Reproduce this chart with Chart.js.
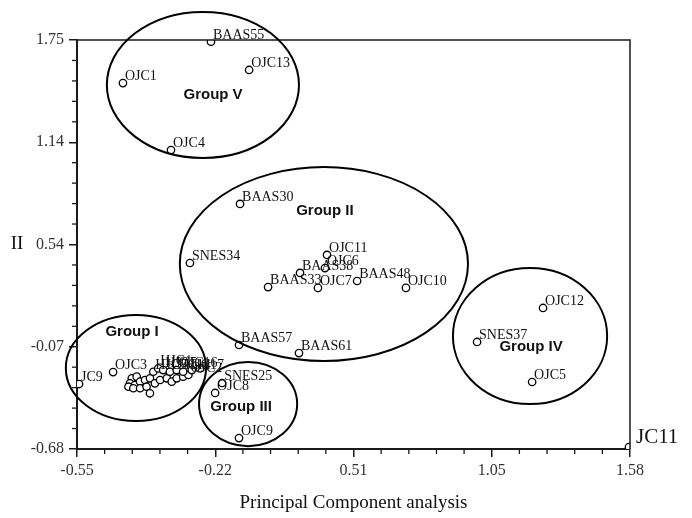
<!DOCTYPE html>
<html>
<head>
<meta charset="utf-8">
<script src="https://cdn.jsdelivr.net/npm/chart.js@4"></script>
<style>
html,body{margin:0;padding:0;background:#fff;}
#wrap{width:692px;height:518px;position:relative;}
</style>
</head>
<body>
<div id="wrap"><canvas id="c" width="692" height="518"></canvas></div>
<script>
// ---- data ----
const pointNames = ['BAAS55','OJC13','OJC1','OJC4','BAAS30','SNES34','BAAS33','BAAS38','OJC6','OJC11','OJC7','BAAS48','OJC10','BAAS57','BAAS61','OJC12','SNES37','OJC5','JC11','SNES25','OJC8','OJC9','JC9','OJC3',
  '','','','','','','','','','','','','','','','','','','OJC2','HJC7','HJC1','HJC5','OJC14','OJC16','HJC17','',''];
const pc1 = [-0.034,0.113,-0.373,-0.188,0.078,-0.115,0.186,0.309,0.405,0.413,0.378,0.529,0.717,0.074,0.305,1.245,0.991,1.203,1.576,0.009,-0.018,0.074,-0.542,-0.411,
  -0.339,-0.320,-0.346,-0.327,-0.307,-0.288,-0.269,-0.352,-0.333,-0.307,-0.282,-0.269,-0.250,-0.230,-0.204,-0.185,-0.166,-0.141,-0.121,-0.256,-0.237,-0.218,-0.192,-0.166,-0.141,-0.108,-0.076];
const pc2 = [1.740,1.572,1.494,1.096,0.776,0.425,0.282,0.366,0.395,0.473,0.277,0.318,0.277,-0.062,-0.110,0.158,-0.044,-0.282,-0.668,-0.288,-0.347,-0.615,-0.294,-0.223,
  -0.260,-0.250,-0.290,-0.300,-0.280,-0.270,-0.260,-0.310,-0.319,-0.319,-0.310,-0.349,-0.290,-0.270,-0.260,-0.280,-0.260,-0.250,-0.240,-0.221,-0.201,-0.211,-0.221,-0.211,-0.221,-0.211,-0.201];
const xTickLabels = ['-0.55','-0.22','0.51','1.05','1.58'];
const yTickLabels = ['-0.68','-0.07','0.54','1.14','1.75'];
const xRange = [-0.55, 1.58];
const yRange = [-0.68, 1.75];
// groups: name, centre and half-axes in data units, label position
const groupNames = ['Group V','Group II','Group I','Group III','Group IV'];
const groupCx = [-0.065,0.401,-0.323,0.109,1.195];
const groupCy = [1.483,0.419,-0.199,-0.413,-0.009];
const groupRx = [0.370,0.555,0.270,0.189,0.297];
const groupRy = [0.434,0.576,0.315,0.250,0.404];
const groupLabelX = [-0.026,0.405,-0.338,0.082,1.199];
const groupLabelY = [1.423,0.734,0.015,-0.430,-0.074];
const bigLabel = 'JC11';
const yAxisName = 'II';
const xAxisName = 'Principal Component analysis';

const points = pc1.map((v,i)=>({x:v, y:pc2[i]}));
const INK = '#1a1a1a';
const SERIF = '"Liberation Serif","Times New Roman",serif';
const SANS = '"Liberation Sans",Arial,sans-serif';

const extrasPlugin = {
  id:'extras',
  afterDraw(chart){
    const ctx = chart.ctx, xs = chart.scales.x, ys = chart.scales.y, a = chart.chartArea;
    ctx.save();
    // frame top/right
    ctx.strokeStyle = INK; ctx.lineWidth = 1.5;
    ctx.beginPath();
    ctx.moveTo(a.left, a.top); ctx.lineTo(a.right, a.top); ctx.lineTo(a.right, a.bottom);
    ctx.stroke();
    // minor ticks
    ctx.lineWidth = 1.3;
    for(let i=0;i<=20;i++){
      if(i%5===0) continue;
      const xv = xRange[0] + i*(xRange[1]-xRange[0])/20;
      const px = xs.getPixelForValue(xv);
      ctx.beginPath(); ctx.moveTo(px, a.bottom); ctx.lineTo(px, a.bottom+5); ctx.stroke();
      const yv = yRange[0] + i*(yRange[1]-yRange[0])/20;
      const py = ys.getPixelForValue(yv);
      ctx.beginPath(); ctx.moveTo(a.left, py); ctx.lineTo(a.left-5, py); ctx.stroke();
    }
    // group ellipses
    ctx.lineWidth = 2; ctx.strokeStyle = '#000';
    groupNames.forEach((g,i)=>{
      const cx = xs.getPixelForValue(groupCx[i]), cy = ys.getPixelForValue(groupCy[i]);
      const rx = Math.abs(xs.getPixelForValue(groupCx[i]+groupRx[i]) - cx);
      const ry = Math.abs(ys.getPixelForValue(groupCy[i]+groupRy[i]) - cy);
      ctx.beginPath(); ctx.ellipse(cx, cy, rx, ry, 0, 0, Math.PI*2); ctx.stroke();
      ctx.fillStyle = '#111';
      ctx.font = 'bold 15px ' + SANS;
      ctx.textAlign = 'center'; ctx.textBaseline = 'middle';
      ctx.fillText(g, xs.getPixelForValue(groupLabelX[i]), ys.getPixelForValue(groupLabelY[i]));
    });
    // point labels
    const meta = chart.getDatasetMeta(0);
    ctx.fillStyle = '#111';
    ctx.textAlign = 'left'; ctx.textBaseline = 'alphabetic';
    meta.data.forEach((el,i)=>{
      const t = pointNames[i];
      if(!t) return;
      if(t === bigLabel){
        ctx.font = '21px ' + SERIF;
        ctx.fillText(t, el.x+7, el.y-4);
      } else {
        ctx.font = '14px ' + SERIF;
        ctx.fillText(t, el.x+2, el.y-3);
      }
    });
    // y axis name
    ctx.font = '19px ' + SERIF;
    ctx.textAlign = 'center'; ctx.textBaseline = 'middle';
    ctx.fillText(yAxisName, 17, ys.getPixelForValue(yRange[0] + 2*(yRange[1]-yRange[0])/4));
    ctx.restore();
  }
};

new Chart(document.getElementById('c'), {
  type:'scatter',
  data:{ datasets:[{
    data: points,
    pointStyle:'circle', pointRadius:3.7, pointHoverRadius:3.7,
    borderColor:'#000', borderWidth:1.3, backgroundColor:'#fff'
  }]},
  options:{
    responsive:false, animation:false,
    layout:{ padding:{left:0, right:62, top:40, bottom:0} },
    plugins:{ legend:{display:false}, tooltip:{enabled:false} },
    scales:{
      x:{
        type:'linear', min:xRange[0], max:xRange[1],
        afterBuildTicks(s){ s.ticks = xTickLabels.map((_,i)=>({value: xRange[0] + i*(xRange[1]-xRange[0])/4})); },
        afterFit(s){ s.height = 69; },
        ticks:{ autoSkip:false, maxRotation:0, padding:4, color:'#333', font:{family:SERIF, size:16},
          callback(v, i){ return xTickLabels[i]; } },
        grid:{ drawOnChartArea:false, drawTicks:true, tickLength:8, color:INK, lineWidth:1.5 },
        border:{ display:true, color:INK, width:2 },
        title:{ display:true, text:xAxisName, color:'#111', font:{family:SERIF, size:19}, padding:{top:0, bottom:4} }
      },
      y:{
        type:'linear', min:yRange[0], max:yRange[1],
        afterBuildTicks(s){ s.ticks = yTickLabels.map((_,i)=>({value: yRange[0] + i*(yRange[1]-yRange[0])/4})); },
        afterFit(s){ s.width = 77; },
        ticks:{ autoSkip:false, padding:5, color:'#333', font:{family:SERIF, size:16},
          callback(v, i){ return yTickLabels[i]; } },
        grid:{ drawOnChartArea:false, drawTicks:true, tickLength:8, color:INK, lineWidth:1.5 },
        border:{ display:true, color:INK, width:2 }
      }
    }
  },
  plugins:[extrasPlugin]
});
</script>
</body>
</html>
